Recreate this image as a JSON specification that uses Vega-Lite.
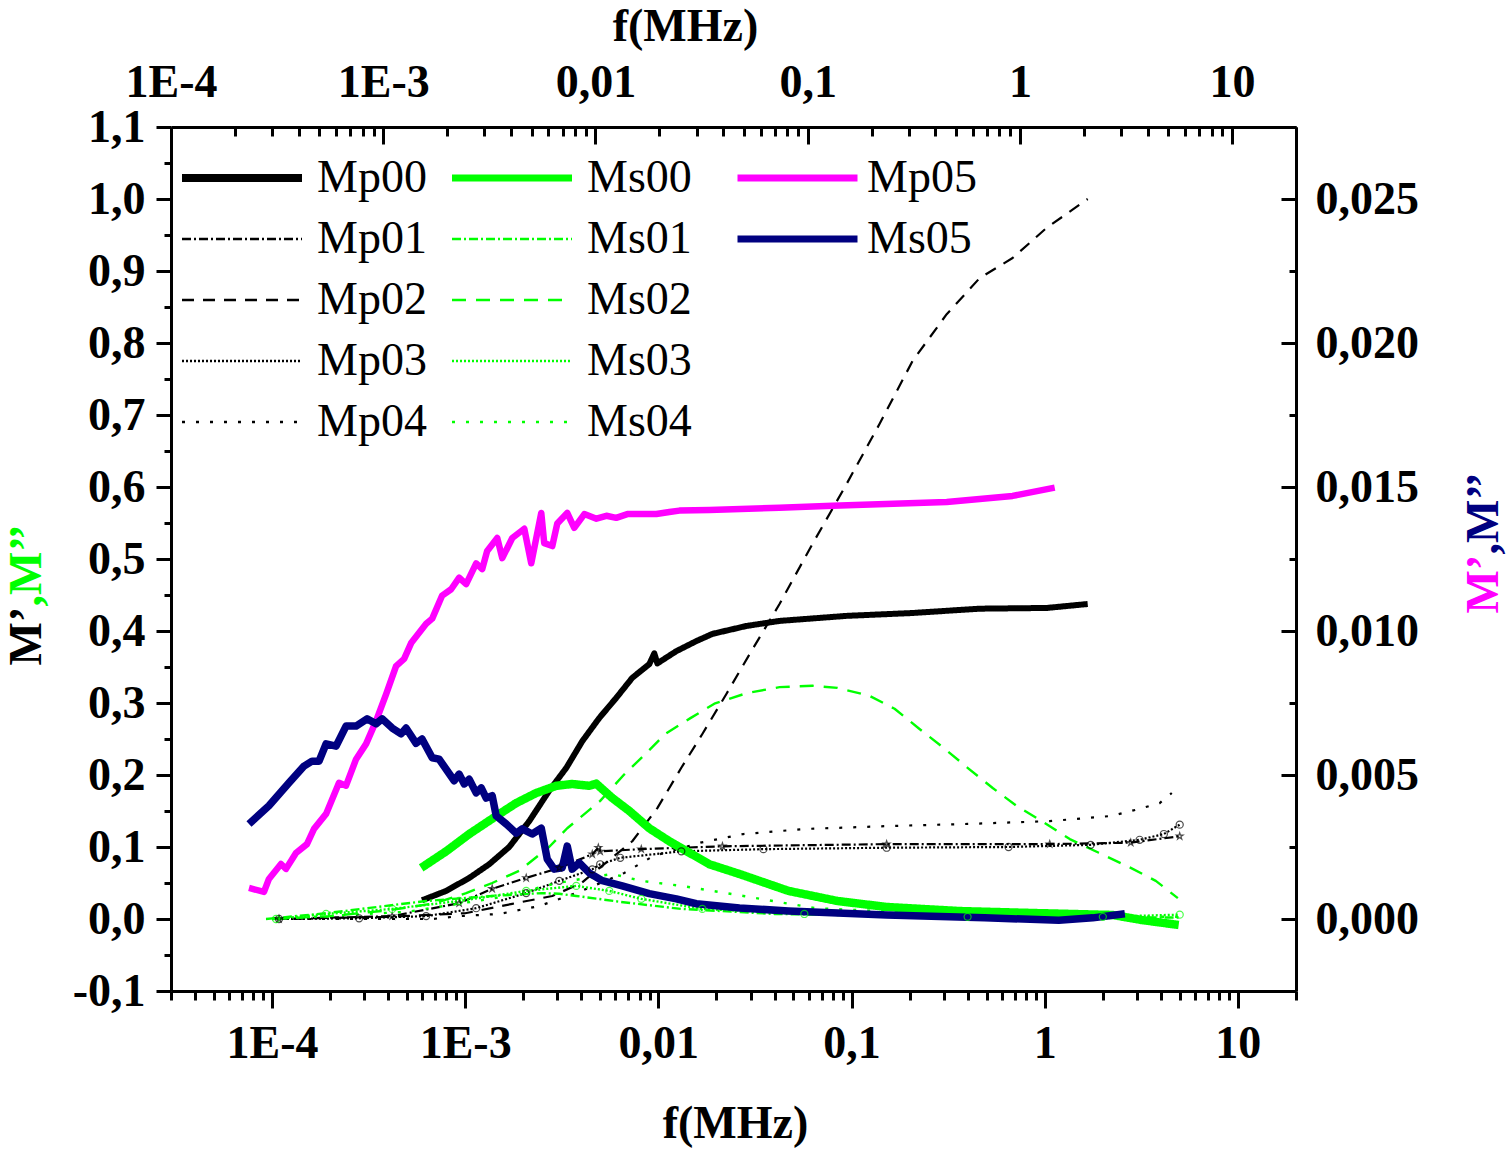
{
  "$schema": "https://vega.github.io/schema/vega-lite/v6.json",
  "width": 1125,
  "height": 864,
  "autosize": "none",
  "padding": {"left": 171, "top": 127, "right": 212, "bottom": 164},
  "background": "white",
  "config": {"view": {"stroke": null}, "font": "Liberation Serif"},
  "datasets": {
    "left": [
      {"s": "Mp00", "f": 0.000598, "m": 0.026}, {"s": "Mp00", "f": 0.000797, "m": 0.039}, {"s": "Mp00", "f": 0.001049, "m": 0.057},
      {"s": "Mp00", "f": 0.001331, "m": 0.076}, {"s": "Mp00", "f": 0.00169, "m": 0.1}, {"s": "Mp00", "f": 0.002147, "m": 0.136},
      {"s": "Mp00", "f": 0.00272, "m": 0.178}, {"s": "Mp00", "f": 0.00334, "m": 0.21}, {"s": "Mp00", "f": 0.00404, "m": 0.247},
      {"s": "Mp00", "f": 0.00494, "m": 0.279}, {"s": "Mp00", "f": 0.00605, "m": 0.307}, {"s": "Mp00", "f": 0.00733, "m": 0.335},
      {"s": "Mp00", "f": 0.00898, "m": 0.354}, {"s": "Mp00", "f": 0.00953, "m": 0.369}, {"s": "Mp00", "f": 0.00988, "m": 0.355},
      {"s": "Mp00", "f": 0.01239, "m": 0.372}, {"s": "Mp00", "f": 0.01573, "m": 0.386}, {"s": "Mp00", "f": 0.01905, "m": 0.396},
      {"s": "Mp00", "f": 0.0286, "m": 0.407}, {"s": "Mp00", "f": 0.0424, "m": 0.414}, {"s": "Mp00", "f": 0.0942, "m": 0.421},
      {"s": "Mp00", "f": 0.207, "m": 0.425}, {"s": "Mp00", "f": 0.46, "m": 0.431}, {"s": "Mp00", "f": 1.024, "m": 0.432},
      {"s": "Mp00", "f": 1.67, "m": 0.4375},

      {"s": "Mp01", "f": 0.0001087, "m": 0}, {"s": "Mp01", "f": 0.000419, "m": 0.004}, {"s": "Mp01", "f": 0.000931, "m": 0.022},
      {"s": "Mp01", "f": 0.00138, "m": 0.042}, {"s": "Mp01", "f": 0.00207, "m": 0.057}, {"s": "Mp01", "f": 0.00307, "m": 0.071},
      {"s": "Mp01", "f": 0.00455, "m": 0.09}, {"s": "Mp01", "f": 0.00489, "m": 0.099}, {"s": "Mp01", "f": 0.005, "m": 0.094},
      {"s": "Mp01", "f": 0.00816, "m": 0.097}, {"s": "Mp01", "f": 0.02147, "m": 0.101}, {"s": "Mp01", "f": 0.152, "m": 0.104},
      {"s": "Mp01", "f": 1.062, "m": 0.104}, {"s": "Mp01", "f": 2.79, "m": 0.106}, {"s": "Mp01", "f": 5.0, "m": 0.115},

      {"s": "Mp02", "f": 0.0001, "m": 0}, {"s": "Mp02", "f": 0.0004, "m": 0.003}, {"s": "Mp02", "f": 0.001, "m": 0.008},
      {"s": "Mp02", "f": 0.001752, "m": 0.021}, {"s": "Mp02", "f": 0.002825, "m": 0.032}, {"s": "Mp02", "f": 0.004, "m": 0.05},
      {"s": "Mp02", "f": 0.00551, "m": 0.081}, {"s": "Mp02", "f": 0.00733, "m": 0.108}, {"s": "Mp02", "f": 0.00988, "m": 0.154},
      {"s": "Mp02", "f": 0.01315, "m": 0.21}, {"s": "Mp02", "f": 0.0169, "m": 0.257}, {"s": "Mp02", "f": 0.0225, "m": 0.3125},
      {"s": "Mp02", "f": 0.0303, "m": 0.372}, {"s": "Mp02", "f": 0.0424, "m": 0.4375}, {"s": "Mp02", "f": 0.0628, "m": 0.521},
      {"s": "Mp02", "f": 0.0942, "m": 0.604}, {"s": "Mp02", "f": 0.1396, "m": 0.6875}, {"s": "Mp02", "f": 0.207, "m": 0.775},
      {"s": "Mp02", "f": 0.311, "m": 0.84}, {"s": "Mp02", "f": 0.46, "m": 0.89}, {"s": "Mp02", "f": 0.682, "m": 0.918},
      {"s": "Mp02", "f": 1.024, "m": 0.96}, {"s": "Mp02", "f": 1.67, "m": 1.0},

      {"s": "Mp03", "f": 0.0001087, "m": 0}, {"s": "Mp03", "f": 0.0002824, "m": 0.001}, {"s": "Mp03", "f": 0.000628, "m": 0.004},
      {"s": "Mp03", "f": 0.00114, "m": 0.015}, {"s": "Mp03", "f": 0.00207, "m": 0.036}, {"s": "Mp03", "f": 0.00307, "m": 0.053},
      {"s": "Mp03", "f": 0.00455, "m": 0.069}, {"s": "Mp03", "f": 0.005, "m": 0.076}, {"s": "Mp03", "f": 0.00635, "m": 0.085},
      {"s": "Mp03", "f": 0.01315, "m": 0.094}, {"s": "Mp03", "f": 0.035, "m": 0.097}, {"s": "Mp03", "f": 0.152, "m": 0.099},
      {"s": "Mp03", "f": 0.65, "m": 0.1}, {"s": "Mp03", "f": 1.73, "m": 0.103}, {"s": "Mp03", "f": 3.1, "m": 0.11},
      {"s": "Mp03", "f": 4.14, "m": 0.118}, {"s": "Mp03", "f": 5.0, "m": 0.131},

      {"s": "Mp04", "f": 0.0000931, "m": 0}, {"s": "Mp04", "f": 0.000675, "m": 0}, {"s": "Mp04", "f": 0.000931, "m": 0.004},
      {"s": "Mp04", "f": 0.0015, "m": 0.007}, {"s": "Mp04", "f": 0.002417, "m": 0.018}, {"s": "Mp04", "f": 0.00376, "m": 0.036},
      {"s": "Mp04", "f": 0.00667, "m": 0.064}, {"s": "Mp04", "f": 0.00942, "m": 0.0875}, {"s": "Mp04", "f": 0.01651, "m": 0.106},
      {"s": "Mp04", "f": 0.02756, "m": 0.118}, {"s": "Mp04", "f": 0.057, "m": 0.125}, {"s": "Mp04", "f": 0.152, "m": 0.129},
      {"s": "Mp04", "f": 0.399, "m": 0.132}, {"s": "Mp04", "f": 1.062, "m": 0.136}, {"s": "Mp04", "f": 2.198, "m": 0.143},
      {"s": "Mp04", "f": 3.1, "m": 0.153}, {"s": "Mp04", "f": 3.94, "m": 0.161}, {"s": "Mp04", "f": 4.55, "m": 0.175},

      {"s": "Ms00", "f": 0.000592, "m": 0.071}, {"s": "Ms00", "f": 0.000797, "m": 0.094}, {"s": "Ms00", "f": 0.001049, "m": 0.118},
      {"s": "Ms00", "f": 0.001448, "m": 0.143}, {"s": "Ms00", "f": 0.001837, "m": 0.161}, {"s": "Ms00", "f": 0.002333, "m": 0.175},
      {"s": "Ms00", "f": 0.00296, "m": 0.185}, {"s": "Ms00", "f": 0.00358, "m": 0.1875}, {"s": "Ms00", "f": 0.00439, "m": 0.185},
      {"s": "Ms00", "f": 0.00477, "m": 0.188}, {"s": "Ms00", "f": 0.00578, "m": 0.168}, {"s": "Ms00", "f": 0.00708, "m": 0.15},
      {"s": "Ms00", "f": 0.00898, "m": 0.126}, {"s": "Ms00", "f": 0.0114, "m": 0.108}, {"s": "Ms00", "f": 0.01448, "m": 0.092},
      {"s": "Ms00", "f": 0.01838, "m": 0.076}, {"s": "Ms00", "f": 0.0263, "m": 0.0625}, {"s": "Ms00", "f": 0.0472, "m": 0.039},
      {"s": "Ms00", "f": 0.0846, "m": 0.025}, {"s": "Ms00", "f": 0.152, "m": 0.0167}, {"s": "Ms00", "f": 0.367, "m": 0.011},
      {"s": "Ms00", "f": 0.877, "m": 0.0083}, {"s": "Ms00", "f": 2.25, "m": 0.0056}, {"s": "Ms00", "f": 3.18, "m": -0.0014},
      {"s": "Ms00", "f": 4.94, "m": -0.0083},

      {"s": "Ms01", "f": 0.0000931, "m": 0}, {"s": "Ms01", "f": 0.0001905, "m": 0.008}, {"s": "Ms01", "f": 0.000628, "m": 0.025},
      {"s": "Ms01", "f": 0.00138, "m": 0.032}, {"s": "Ms01", "f": 0.0025, "m": 0.036}, {"s": "Ms01", "f": 0.00307, "m": 0.035},
      {"s": "Ms01", "f": 0.00376, "m": 0.032}, {"s": "Ms01", "f": 0.00628, "m": 0.024}, {"s": "Ms01", "f": 0.01315, "m": 0.014},
      {"s": "Ms01", "f": 0.04, "m": 0.007}, {"s": "Ms01", "f": 0.2, "m": 0.004}, {"s": "Ms01", "f": 1.0, "m": 0.003},
      {"s": "Ms01", "f": 5.0, "m": 0.002},

      {"s": "Ms02", "f": 0.0001, "m": 0}, {"s": "Ms02", "f": 0.0002, "m": 0.004}, {"s": "Ms02", "f": 0.0004, "m": 0.012},
      {"s": "Ms02", "f": 0.0007, "m": 0.022}, {"s": "Ms02", "f": 0.001012, "m": 0.036}, {"s": "Ms02", "f": 0.00138, "m": 0.05},
      {"s": "Ms02", "f": 0.001905, "m": 0.067}, {"s": "Ms02", "f": 0.00272, "m": 0.1}, {"s": "Ms02", "f": 0.003376, "m": 0.126},
      {"s": "Ms02", "f": 0.005, "m": 0.164}, {"s": "Ms02", "f": 0.00667, "m": 0.201}, {"s": "Ms02", "f": 0.00856, "m": 0.229},
      {"s": "Ms02", "f": 0.01087, "m": 0.257}, {"s": "Ms02", "f": 0.01466, "m": 0.279}, {"s": "Ms02", "f": 0.0195, "m": 0.299},
      {"s": "Ms02", "f": 0.0289, "m": 0.314}, {"s": "Ms02", "f": 0.0424, "m": 0.322}, {"s": "Ms02", "f": 0.0628, "m": 0.324},
      {"s": "Ms02", "f": 0.0846, "m": 0.321}, {"s": "Ms02", "f": 0.1239, "m": 0.31}, {"s": "Ms02", "f": 0.1671, "m": 0.292},
      {"s": "Ms02", "f": 0.2224, "m": 0.265}, {"s": "Ms02", "f": 0.3, "m": 0.2375}, {"s": "Ms02", "f": 0.399, "m": 0.21},
      {"s": "Ms02", "f": 0.538, "m": 0.182}, {"s": "Ms02", "f": 0.716, "m": 0.157}, {"s": "Ms02", "f": 0.964, "m": 0.136},
      {"s": "Ms02", "f": 1.349, "m": 0.111}, {"s": "Ms02", "f": 1.905, "m": 0.092}, {"s": "Ms02", "f": 2.79, "m": 0.071},
      {"s": "Ms02", "f": 3.76, "m": 0.053}, {"s": "Ms02", "f": 4.89, "m": 0.029},

      {"s": "Ms03", "f": 0.0001049, "m": 0}, {"s": "Ms03", "f": 0.0001905, "m": 0.007}, {"s": "Ms03", "f": 0.000419, "m": 0.014},
      {"s": "Ms03", "f": 0.000931, "m": 0.025}, {"s": "Ms03", "f": 0.00207, "m": 0.039}, {"s": "Ms03", "f": 0.00376, "m": 0.046},
      {"s": "Ms03", "f": 0.00557, "m": 0.039}, {"s": "Ms03", "f": 0.00816, "m": 0.028}, {"s": "Ms03", "f": 0.0169, "m": 0.014},
      {"s": "Ms03", "f": 0.057, "m": 0.007}, {"s": "Ms03", "f": 0.399, "m": 0.003}, {"s": "Ms03", "f": 2.0, "m": 0.003},
      {"s": "Ms03", "f": 5.0, "m": 0.006},

      {"s": "Ms04", "f": 0.0001, "m": 0}, {"s": "Ms04", "f": 0.0005, "m": 0.01}, {"s": "Ms04", "f": 0.0015, "m": 0.03},
      {"s": "Ms04", "f": 0.003, "m": 0.05}, {"s": "Ms04", "f": 0.005, "m": 0.06}, {"s": "Ms04", "f": 0.00578, "m": 0.0625},
      {"s": "Ms04", "f": 0.00816, "m": 0.053}, {"s": "Ms04", "f": 0.01315, "m": 0.046}, {"s": "Ms04", "f": 0.02756, "m": 0.032},
      {"s": "Ms04", "f": 0.065, "m": 0.015}, {"s": "Ms04", "f": 0.245, "m": 0.008}, {"s": "Ms04", "f": 1.062, "m": 0.004},
      {"s": "Ms04", "f": 5.0, "m": 0.003}
    ],
    "right": [
      {"s": "Mp05", "f": 0.000076, "m": 0.00108}, {"s": "Mp05", "f": 0.0000909, "m": 0.00094}, {"s": "Mp05", "f": 0.0000964, "m": 0.00139},
      {"s": "Mp05", "f": 0.0001113, "m": 0.00191}, {"s": "Mp05", "f": 0.0001182, "m": 0.00174}, {"s": "Mp05", "f": 0.0001331, "m": 0.00229},
      {"s": "Mp05", "f": 0.0001517, "m": 0.0026}, {"s": "Mp05", "f": 0.000165, "m": 0.00313}, {"s": "Mp05", "f": 0.0001905, "m": 0.00365},
      {"s": "Mp05", "f": 0.0002223, "m": 0.00473}, {"s": "Mp05", "f": 0.0002417, "m": 0.00463}, {"s": "Mp05", "f": 0.0002724, "m": 0.00555},
      {"s": "Mp05", "f": 0.000307, "m": 0.00608}, {"s": "Mp05", "f": 0.0003459, "m": 0.00688}, {"s": "Mp05", "f": 0.0003898, "m": 0.00781},
      {"s": "Mp05", "f": 0.0004388, "m": 0.00878}, {"s": "Mp05", "f": 0.000483, "m": 0.00903}, {"s": "Mp05", "f": 0.000525, "m": 0.00958},
      {"s": "Mp05", "f": 0.000628, "m": 0.01025}, {"s": "Mp05", "f": 0.000675, "m": 0.01043}, {"s": "Mp05", "f": 0.00076, "m": 0.01123},
      {"s": "Mp05", "f": 0.000846, "m": 0.01145}, {"s": "Mp05", "f": 0.000931, "m": 0.01185}, {"s": "Mp05", "f": 0.001012, "m": 0.01163},
      {"s": "Mp05", "f": 0.00114, "m": 0.01235}, {"s": "Mp05", "f": 0.001225, "m": 0.01215}, {"s": "Mp05", "f": 0.0013, "m": 0.01278},
      {"s": "Mp05", "f": 0.001466, "m": 0.01323}, {"s": "Mp05", "f": 0.001556, "m": 0.01253}, {"s": "Mp05", "f": 0.001753, "m": 0.01323},
      {"s": "Mp05", "f": 0.002023, "m": 0.01355}, {"s": "Mp05", "f": 0.002198, "m": 0.01235}, {"s": "Mp05", "f": 0.002477, "m": 0.0141},
      {"s": "Mp05", "f": 0.002566, "m": 0.01305}, {"s": "Mp05", "f": 0.002825, "m": 0.01295}, {"s": "Mp05", "f": 0.002998, "m": 0.01373},
      {"s": "Mp05", "f": 0.003376, "m": 0.0141}, {"s": "Mp05", "f": 0.00367, "m": 0.01358}, {"s": "Mp05", "f": 0.00414, "m": 0.01406},
      {"s": "Mp05", "f": 0.00478, "m": 0.0139}, {"s": "Mp05", "f": 0.00538, "m": 0.014}, {"s": "Mp05", "f": 0.00605, "m": 0.01393},
      {"s": "Mp05", "f": 0.00691, "m": 0.01406}, {"s": "Mp05", "f": 0.00826, "m": 0.01406}, {"s": "Mp05", "f": 0.00977, "m": 0.01406},
      {"s": "Mp05", "f": 0.0114, "m": 0.01413}, {"s": "Mp05", "f": 0.01285, "m": 0.01418}, {"s": "Mp05", "f": 0.01838, "m": 0.0142},
      {"s": "Mp05", "f": 0.0423, "m": 0.01428}, {"s": "Mp05", "f": 0.0797, "m": 0.01435}, {"s": "Mp05", "f": 0.311, "m": 0.01448},
      {"s": "Mp05", "f": 0.682, "m": 0.01469}, {"s": "Mp05", "f": 1.127, "m": 0.01498},

      {"s": "Ms05", "f": 0.000076, "m": 0.0033}, {"s": "Ms05", "f": 0.0000964, "m": 0.00393}, {"s": "Ms05", "f": 0.0001225, "m": 0.00473},
      {"s": "Ms05", "f": 0.0001465, "m": 0.00531}, {"s": "Ms05", "f": 0.0001611, "m": 0.00548}, {"s": "Ms05", "f": 0.0001752, "m": 0.00548},
      {"s": "Ms05", "f": 0.0001905, "m": 0.00608}, {"s": "Ms05", "f": 0.0002146, "m": 0.006}, {"s": "Ms05", "f": 0.0002417, "m": 0.0067},
      {"s": "Ms05", "f": 0.0002724, "m": 0.0067}, {"s": "Ms05", "f": 0.0003106, "m": 0.00695}, {"s": "Ms05", "f": 0.0003459, "m": 0.00678},
      {"s": "Ms05", "f": 0.0003715, "m": 0.00695}, {"s": "Ms05", "f": 0.000419, "m": 0.00663}, {"s": "Ms05", "f": 0.000466, "m": 0.00643},
      {"s": "Ms05", "f": 0.000494, "m": 0.00663}, {"s": "Ms05", "f": 0.000557, "m": 0.0061}, {"s": "Ms05", "f": 0.000598, "m": 0.00625},
      {"s": "Ms05", "f": 0.000675, "m": 0.0056}, {"s": "Ms05", "f": 0.000733, "m": 0.00555}, {"s": "Ms05", "f": 0.000877, "m": 0.0048},
      {"s": "Ms05", "f": 0.000931, "m": 0.00503}, {"s": "Ms05", "f": 0.000989, "m": 0.00469}, {"s": "Ms05", "f": 0.001049, "m": 0.00485},
      {"s": "Ms05", "f": 0.00114, "m": 0.00438}, {"s": "Ms05", "f": 0.001211, "m": 0.00455}, {"s": "Ms05", "f": 0.001285, "m": 0.0042},
      {"s": "Ms05", "f": 0.00138, "m": 0.00428}, {"s": "Ms05", "f": 0.001448, "m": 0.00358}, {"s": "Ms05", "f": 0.001631, "m": 0.0033},
      {"s": "Ms05", "f": 0.001837, "m": 0.00298}, {"s": "Ms05", "f": 0.001974, "m": 0.00313}, {"s": "Ms05", "f": 0.002223, "m": 0.00295},
      {"s": "Ms05", "f": 0.002477, "m": 0.00315}, {"s": "Ms05", "f": 0.00266, "m": 0.00208}, {"s": "Ms05", "f": 0.00289, "m": 0.00173},
      {"s": "Ms05", "f": 0.00318, "m": 0.00178}, {"s": "Ms05", "f": 0.003376, "m": 0.00253}, {"s": "Ms05", "f": 0.00358, "m": 0.00173},
      {"s": "Ms05", "f": 0.0039, "m": 0.00195}, {"s": "Ms05", "f": 0.00439, "m": 0.0016}, {"s": "Ms05", "f": 0.00513, "m": 0.00133},
      {"s": "Ms05", "f": 0.0065, "m": 0.00115}, {"s": "Ms05", "f": 0.00897, "m": 0.00088}, {"s": "Ms05", "f": 0.01239, "m": 0.0007},
      {"s": "Ms05", "f": 0.01573, "m": 0.00053}, {"s": "Ms05", "f": 0.0263, "m": 0.00038}, {"s": "Ms05", "f": 0.0472, "m": 0.00028},
      {"s": "Ms05", "f": 0.152, "m": 0.00014}, {"s": "Ms05", "f": 0.489, "m": 0.00004}, {"s": "Ms05", "f": 1.183, "m": -0.00004},
      {"s": "Ms05", "f": 1.775, "m": 0.00004}, {"s": "Ms05", "f": 2.6, "m": 0.00018}
    ]
  },
  "layer": [
    {
      "data": {"name": "left"},
      "transform": [{"filter": "slice(datum.s, 0, 2) === 'Mp'"}],
      "mark": {"type": "line", "strokeJoin": "round"},
      "encoding": {
        "x": {
          "field": "f", "type": "quantitative",
          "scale": {"type": "log", "domain": [0.00003, 20], "nice": false},
          "axis": {
            "orient": "bottom",
            "values": [0.00003, 0.00004, 0.00005, 0.00006, 0.00007, 0.00008, 0.00009, 0.0001, 0.0002, 0.0003, 0.0004, 0.0005, 0.0006, 0.0007, 0.0008, 0.0009, 0.001, 0.002, 0.003, 0.004, 0.005, 0.006, 0.007, 0.008, 0.009, 0.01, 0.02, 0.03, 0.04, 0.05, 0.06, 0.07, 0.08, 0.09, 0.1, 0.2, 0.3, 0.4, 0.5, 0.6, 0.7, 0.8, 0.9, 1, 2, 3, 4, 5, 6, 7, 8, 9, 10, 20],
            "labelExpr": "datum.value == 0.0001 ? '1E-4' : datum.value == 0.001 ? '1E-3' : datum.value == 0.01 ? '0,01' : datum.value == 0.1 ? '0,1' : datum.value == 1 ? '1' : datum.value == 10 ? '10' : ''",
            "tickSize": {"condition": {"test": "indexof([0.0001, 0.001, 0.01, 0.1, 1, 10], datum.value) >= 0", "value": 17}, "value": 9},
            "tickWidth": 3, "tickColor": "black", "domainWidth": 3, "domainColor": "black",
            "labelFont": "Liberation Serif", "labelFontWeight": "bold", "labelFontSize": 46, "labelColor": "black",
            "labelPadding": 13, "labelOverlap": false, "labelFlush": false, "labelBound": false, "grid": false,
            "title": "f(MHz)", "titleFont": "Liberation Serif", "titleFontSize": 46, "titleFontWeight": "bold", "titleColor": "black",
            "titleX": 564, "titleY": 146, "titleAlign": "center", "titleBaseline": "alphabetic"
          }
        },
        "y": {
          "field": "m", "type": "quantitative",
          "scale": {"domain": [-0.1, 1.1], "nice": false, "zero": false},
          "axis": {
            "orient": "left",
            "values": [-0.1, -0.05, 0, 0.05, 0.1, 0.15, 0.2, 0.25, 0.3, 0.35, 0.4, 0.45, 0.5, 0.55, 0.6, 0.65, 0.7, 0.75, 0.8, 0.85, 0.9, 0.95, 1, 1.05, 1.1],
            "labelExpr": "abs(datum.value * 10 - round(datum.value * 10)) < 0.01 ? replace(replace(format(datum.value, '.1f'), '.', ','), '\u2212', '-') : ''",
            "tickSize": {"condition": {"test": "abs(datum.value * 10 - round(datum.value * 10)) < 0.01", "value": 15}, "value": 7},
            "tickWidth": 3, "tickColor": "black", "domainWidth": 3, "domainColor": "black",
            "labelFont": "Liberation Serif", "labelFontWeight": "bold", "labelFontSize": 46, "labelColor": "black",
            "labelPadding": 11, "labelOverlap": false, "labelBound": false, "grid": false,
            "title": "M\u2019", "titleFont": "Liberation Serif", "titleFontSize": 46, "titleFontWeight": "bold", "titleColor": "black",
            "titleAngle": 270, "titleX": -131, "titleY": 538, "titleAlign": "left", "titleBaseline": "alphabetic"
          }
        },
        "color": {
          "field": "s", "type": "nominal",
          "scale": {"domain": ["Mp00", "Mp01", "Mp02", "Mp03", "Mp04"], "range": ["black", "black", "black", "black", "black"]},
          "legend": {
            "orient": "none", "legendX": 11, "legendY": 26, "direction": "vertical", "title": null, "padding": 0,
            "symbolType": "stroke", "symbolSize": 14400, "symbolStrokeWidth": 2.5, "symbolOffset": 37, "clipHeight": 50, "rowPadding": 11,
            "labelFont": "Liberation Serif", "labelFontSize": 46, "labelColor": "black", "labelOffset": 52, "labelLimit": 300,
            "encode": {"symbols": {"update": {
              "strokeWidth": {"signal": "datum.value === 'Mp00' ? 8 : 2.5"},
              "strokeDash": {"signal": "datum.value === 'Mp01' ? [9, 3, 2, 3] : datum.value === 'Mp02' ? [14, 10] : datum.value === 'Mp03' ? [2, 2] : datum.value === 'Mp04' ? [3, 11] : [1, 0]"}
            }}}
          }
        },
        "strokeDash": {
          "field": "s", "type": "nominal",
          "scale": {"domain": ["Mp00", "Mp01", "Mp02", "Mp03", "Mp04"], "range": [[1, 0], [9, 3, 2, 3], [12, 9], [2, 2], [3, 11]]},
          "legend": null
        },
        "strokeWidth": {"condition": {"test": "datum.s === 'Mp00'", "value": 6}, "value": 2.2}
      }
    },
    {
      "data": {"name": "left"},
      "transform": [{"filter": "slice(datum.s, 0, 2) === 'Ms'"}],
      "mark": {"type": "line", "strokeJoin": "round"},
      "encoding": {
        "x": {"field": "f", "type": "quantitative", "scale": {"type": "log", "domain": [0.00003, 20], "nice": false}, "axis": null},
        "y": {"field": "m", "type": "quantitative", "scale": {"domain": [-0.1, 1.1], "nice": false, "zero": false}, "axis": null},
        "color": {
          "field": "s", "type": "nominal",
          "scale": {"domain": ["Ms00", "Ms01", "Ms02", "Ms03", "Ms04"], "range": ["#00ff00", "#00ff00", "#00ff00", "#00ff00", "#00ff00"]},
          "legend": {
            "orient": "none", "legendX": 281, "legendY": 26, "direction": "vertical", "title": null, "padding": 0,
            "symbolType": "stroke", "symbolSize": 14400, "symbolStrokeWidth": 2.5, "symbolOffset": 37, "clipHeight": 50, "rowPadding": 11,
            "labelFont": "Liberation Serif", "labelFontSize": 46, "labelColor": "black", "labelOffset": 52, "labelLimit": 300,
            "encode": {"symbols": {"update": {
              "strokeWidth": {"signal": "datum.value === 'Ms00' ? 7 : 2.5"},
              "strokeDash": {"signal": "datum.value === 'Ms01' ? [9, 3, 2, 3] : datum.value === 'Ms02' ? [14, 10] : datum.value === 'Ms03' ? [2, 2] : datum.value === 'Ms04' ? [3, 11] : [1, 0]"}
            }}}
          }
        },
        "strokeDash": {
          "field": "s", "type": "nominal",
          "scale": {"domain": ["Ms00", "Ms01", "Ms02", "Ms03", "Ms04"], "range": [[1, 0], [9, 3, 2, 3], [14, 10], [2, 2], [3, 11]]},
          "legend": null
        },
        "strokeWidth": {"condition": {"test": "datum.s === 'Ms00'", "value": 8.5}, "value": 2.4}
      }
    },
    {
      "data": {"name": "right"},
      "mark": {"type": "line", "strokeJoin": "round"},
      "encoding": {
        "x": {"field": "f", "type": "quantitative", "scale": {"type": "log", "domain": [0.00003, 20], "nice": false}, "axis": null},
        "y": {
          "field": "m", "type": "quantitative",
          "scale": {"domain": [-0.0025, 0.0275], "nice": false, "zero": false},
          "axis": {
            "orient": "right",
            "values": [-0.0025, 0, 0.0025, 0.005, 0.0075, 0.01, 0.0125, 0.015, 0.0175, 0.02, 0.0225, 0.025, 0.0275],
            "labelExpr": "abs(datum.value * 200 - round(datum.value * 200)) < 0.01 ? replace(format(datum.value, '.3f'), '.', ',') : ''",
            "tickSize": {"condition": {"test": "abs(datum.value * 200 - round(datum.value * 200)) < 0.01", "value": -15}, "value": -7},
            "tickWidth": 3, "tickColor": "black", "domainWidth": 3, "domainColor": "black",
            "labelFont": "Liberation Serif", "labelFontWeight": "bold", "labelFontSize": 46, "labelColor": "black",
            "labelPadding": 34, "labelOverlap": false, "labelBound": false, "grid": false,
            "title": "M\u2019", "titleFont": "Liberation Serif", "titleFontSize": 46, "titleFontWeight": "bold", "titleColor": "#ff00ff",
            "titleAngle": 270, "titleX": 201, "titleY": 486, "titleAlign": "left", "titleBaseline": "alphabetic"
          }
        },
        "color": {
          "field": "s", "type": "nominal",
          "scale": {"domain": ["Mp05", "Ms05"], "range": ["#ff00ff", "#000080"]},
          "legend": {
            "orient": "none", "legendX": 563, "legendY": 26, "direction": "vertical", "title": null, "padding": 0,
            "symbolType": "stroke", "symbolSize": 14400, "symbolStrokeWidth": 7, "clipHeight": 50, "rowPadding": 11,
            "labelFont": "Liberation Serif", "labelFontSize": 46, "labelColor": "black", "labelOffset": 6, "labelLimit": 300
          }
        },
        "strokeWidth": {"condition": {"test": "datum.s === 'Mp05'", "value": 6.5}, "value": 7.5}
      }
    },
    {
      "data": {"name": "right"},
      "mark": {"type": "point", "opacity": 0},
      "encoding": {
        "x": {
          "field": "f", "type": "quantitative",
          "scale": {"type": "log", "domain": [0.0001, 20], "nice": false},
          "axis": {
            "orient": "top",
            "values": [0.0001, 0.0002, 0.0003, 0.0004, 0.0005, 0.0006, 0.0007, 0.0008, 0.0009, 0.001, 0.002, 0.003, 0.004, 0.005, 0.006, 0.007, 0.008, 0.009, 0.01, 0.02, 0.03, 0.04, 0.05, 0.06, 0.07, 0.08, 0.09, 0.1, 0.2, 0.3, 0.4, 0.5, 0.6, 0.7, 0.8, 0.9, 1, 2, 3, 4, 5, 6, 7, 8, 9, 10, 20],
            "labelExpr": "datum.value == 0.0001 ? '1E-4' : datum.value == 0.001 ? '1E-3' : datum.value == 0.01 ? '0,01' : datum.value == 0.1 ? '0,1' : datum.value == 1 ? '1' : datum.value == 10 ? '10' : ''",
            "tickSize": {"condition": {"test": "indexof([0.0001, 0.001, 0.01, 0.1, 1, 10], datum.value) >= 0", "value": -17}, "value": -9},
            "tickWidth": 3, "tickColor": "black", "domainWidth": 3, "domainColor": "black",
            "labelFont": "Liberation Serif", "labelFontWeight": "bold", "labelFontSize": 46, "labelColor": "black",
            "labelPadding": 48, "labelBaseline": "alphabetic", "labelOverlap": false, "labelFlush": false, "labelBound": false, "grid": false,
            "title": "f(MHz)", "titleFont": "Liberation Serif", "titleFontSize": 46, "titleFontWeight": "bold", "titleColor": "black",
            "titleX": 514, "titleY": -87, "titleAlign": "center", "titleBaseline": "alphabetic"
          }
        },
        "y": {
          "field": "m", "type": "quantitative",
          "scale": {"domain": [-0.0025, 0.0275], "nice": false, "zero": false},
          "axis": {
            "orient": "right", "ticks": false, "labels": false, "domain": false, "grid": false,
            "title": ",M\u2019\u2019", "titleFont": "Liberation Serif", "titleFontSize": 46, "titleFontWeight": "bold", "titleColor": "#000080",
            "titleAngle": 270, "titleX": 201, "titleY": 427, "titleAlign": "left", "titleBaseline": "alphabetic"
          }
        }
      }
    },
    {
      "data": {"name": "left"},
      "transform": [{"filter": "indexof(['Mp01', 'Mp03', 'Ms03'], datum.s) >= 0"}],
      "mark": {"type": "point", "filled": false, "strokeWidth": 1.2, "size": 50},
      "encoding": {
        "x": {"field": "f", "type": "quantitative", "scale": {"type": "log", "domain": [0.00003, 20], "nice": false}, "axis": null},
        "y": {
          "field": "m", "type": "quantitative",
          "scale": {"domain": [-0.1, 1.1], "nice": false, "zero": false},
          "axis": {
            "orient": "left", "ticks": false, "labels": false, "domain": false, "grid": false,
            "title": ",M\u2019\u2019", "titleFont": "Liberation Serif", "titleFontSize": 46, "titleFontWeight": "bold", "titleColor": "#00ff00",
            "titleAngle": 270, "titleX": -131, "titleY": 479, "titleAlign": "left", "titleBaseline": "alphabetic"
          }
        },
        "color": {"condition": {"test": "datum.s === 'Ms03'", "value": "#00ff00"}, "value": "black"},
        "shape": {"condition": {"test": "datum.s === 'Mp01'", "value": "M0,-1L0.2245,-0.309L0.951,-0.309L0.363,0.118L0.588,0.809L0,0.382L-0.588,0.809L-0.363,0.118L-0.951,-0.309L-0.2245,-0.309Z"}, "value": "circle"}
      }
    }
  ],
  "resolve": {
    "scale": {"x": "independent", "y": "independent", "color": "independent", "strokeDash": "independent"},
    "axis": {"x": "independent", "y": "independent"},
    "legend": {"color": "independent"}
  }
}
